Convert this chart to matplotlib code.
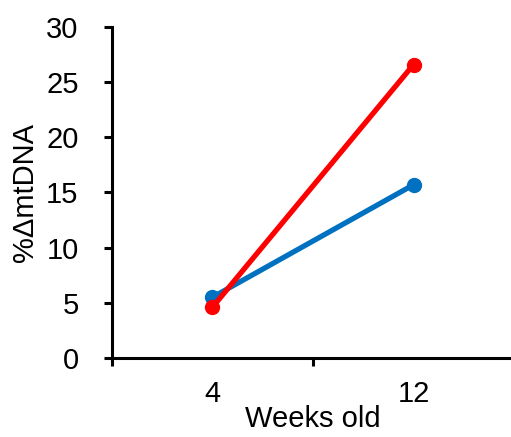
import matplotlib
matplotlib.use("Agg")
import matplotlib.pyplot as plt
from matplotlib.pyplot import MultipleLocator

plt.rcParams['font.family'] = ['Liberation Sans', 'DejaVu Sans']

weeks = ["4", "12"]
blue_vals = [5.5, 15.7]
red_vals = [4.6, 26.6]

fig = plt.figure(figsize=(5.11, 4.37), dpi=100)
ax = fig.add_axes([0.219, 0.181, 0.787, 0.757])

xpos = [0.5, 1.5]
ax.plot(xpos, blue_vals, color="#0070C0", lw=3.8, marker="o", ms=10, solid_capstyle="round")
ax.plot(xpos, red_vals, color="#FF0000", lw=3.8, marker="o", ms=10, solid_capstyle="round")

ax.set_xlim(0, 2)
ax.set_ylim(0, 30)
ax.yaxis.set_major_locator(MultipleLocator(5))
ax.set_xticks([0, 1, 2])
ax.set_xticklabels([])
ax.set_xticks(xpos, minor=True)
ax.set_xticklabels(weeks, minor=True)
ax.tick_params(axis='x', which='minor', length=0, labelsize=21, pad=16)
ax.tick_params(axis='x', which='major', length=6, width=2.2, direction='out')
ax.tick_params(axis='y', length=6, width=2.2, direction='out', labelsize=21, pad=18)

for s in ['top', 'right']:
    ax.spines[s].set_visible(False)
for s in ['bottom', 'left']:
    ax.spines[s].set_linewidth(2.2)

ax.set_xlabel("Weeks old", fontsize=21, labelpad=-2)
ax.set_ylabel("%\u0394mtDNA", fontsize=21, labelpad=5)

fig.savefig("out.png", dpi=100)
